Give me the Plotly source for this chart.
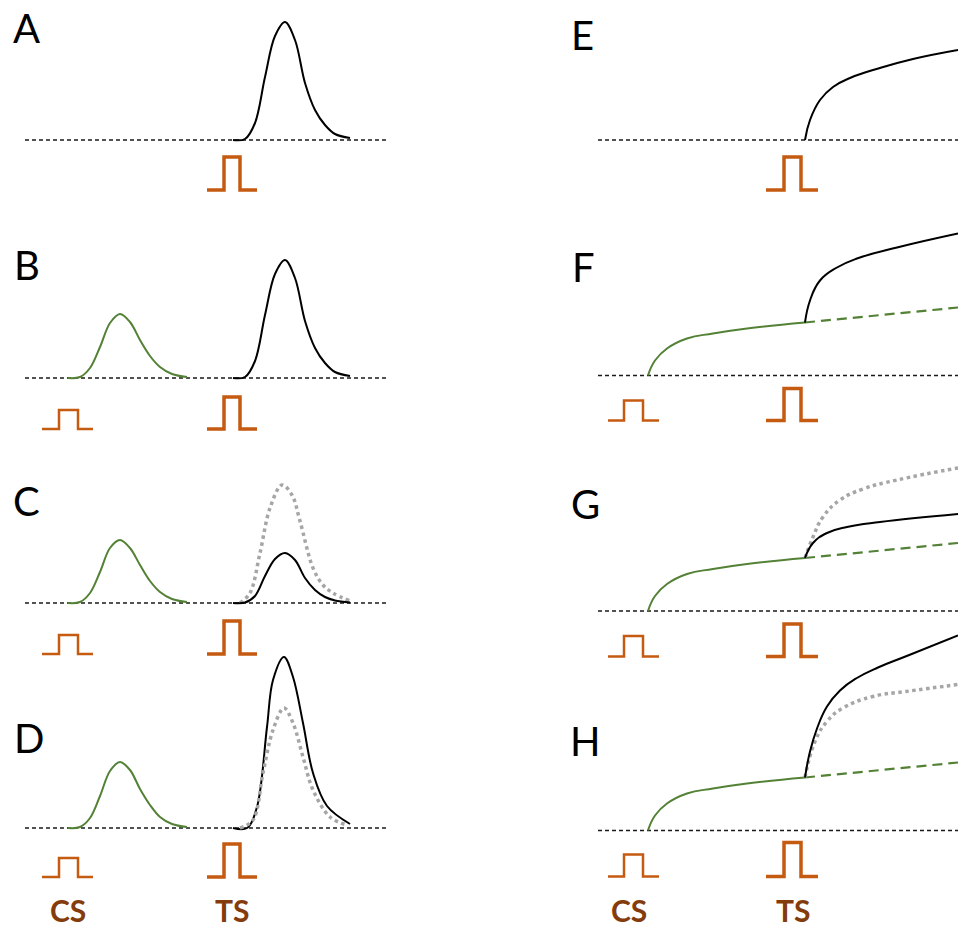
import plotly.graph_objects as go

# ---------------- data (time in px-like units from the start of each baseline,
# amplitude in px-like units above the baseline) ----------------
# Left column: MEP amplitude traces
L_TS_T = [208, 220, 230, 240, 250, 260, 270, 280, 290, 300, 310, 325]
A_TS_MEP = [0, 1, 17, 63, 104, 118, 100, 57, 30, 15, 6, 2]
B_TS_MEP = [0, 1, 17, 63, 104, 118, 100, 57, 30, 15, 6, 2]
C_TS_MEP = [0, 0.5, 7, 27, 44, 50, 43, 25, 13, 6, 2.5, 0.5]

C_REF_T = [215, 225, 235, 245, 257, 267, 275, 288, 298, 308, 325]
C_REF_MEP = [0, 10, 50, 95, 118, 108, 82, 35, 18, 10, 2]

D_TS_T = [208, 222, 232, 242, 248, 259, 268, 278, 288, 302, 325]
D_TS_MEP = [0, 0, 21, 101, 148, 171, 151, 105, 55, 22, 4]
D_REF_T = [215, 228, 238, 248, 259, 268, 278, 288, 305, 322]
D_REF_MEP = [0, 8, 55, 98, 120, 105, 71, 38, 11, 3]

L_CS_T = [43, 55, 65, 75, 85, 95, 105, 115, 125, 135, 147, 162]
B_CS_MEP = [0, 1, 10, 31, 55, 64, 56, 38, 22, 11, 4, 1]
C_CS_MEP = [0, 1, 10, 31, 55, 63, 55, 38, 22, 11, 4, 1]
D_CS_MEP = [0, 1, 10, 32, 57, 66, 58, 39, 23, 11, 4, 1]

# Right column: sustained responses
E_TS_T = [207, 212, 222, 235, 252, 282, 315, 360]
E_TS_RESP = [0, 20, 40, 53, 62, 72, 81, 90]

R_CS_T = [50, 57, 69, 89, 115, 149, 207]
R_CS_RESP = [0, 15, 27, 37, 42, 47, 53]
R_CS_CONT_T = [207, 360]
R_CS_CONT = [53, 68]

F_TS_T = [207, 212, 222, 239, 259, 299, 360]
F_TS_RESP = [53, 75, 95, 108, 117, 128, 142]

G_TS_T = [207, 215, 229, 249, 282, 360]
G_TS_RESP = [53, 68, 78, 84, 89, 97]
G_REF_T = [207, 215, 225, 242, 265, 299, 360]
G_REF_RESP = [53, 74, 94, 111, 122, 131, 143]

H_TS_T = [207, 212, 219, 229, 242, 258, 280, 310, 360]
H_TS_RESP = [53, 79, 102, 124, 140, 152, 163, 175, 195]
H_REF_T = [207, 217, 229, 245, 275, 308, 360]
H_REF_RESP = [53, 89, 109, 122.5, 134, 139, 146]

# Stimulus pulses: [start, rise, fall, end]
L_CS_PULSE = [17, 34, 53, 68]
L_TS_PULSE = [182, 199, 215, 232]
R_CS_PULSE = [10, 26, 45, 61]
R_TS_PULSE = [168, 186, 203, 220]

PANEL_LABELS = ["A", "B", "C", "D", "E", "F", "G", "H"]
STIM_LABELS = ["CS", "TS"]

# ---------------- styling ----------------
W, H = 958, 930
BLACK = "#000000"
GREEN = "#538135"
GREY = "#A6A6A6"
ORANGE = "#C55A11"
BROWN = "#843C0C"
BASE = "#1a1a1a"

# panel geometry: (column, row, baseline pixel y)
panels = {
    "A": (0, 0, 140), "B": (0, 1, 378), "C": (0, 2, 603), "D": (0, 3, 828),
    "E": (1, 0, 140), "F": (1, 1, 375.5), "G": (1, 2, 611), "H": (1, 3, 830.5),
}
# pulse levels per panel: (base, CS top, TS top), below baseline
pulse_levels = {
    "A": (-50, None, -17), "B": (-51, -32, -19), "C": (-51, -32, -18), "D": (-49, -30, -16),
    "E": (-50, None, -17), "F": (-45, -25, -13), "G": (-45.5, -25, -13), "H": (-46, -24, -12),
}

fig = go.Figure()
layout = dict(width=W, height=H, margin=dict(l=0, r=0, t=0, b=0), autosize=False,
              paper_bgcolor="white", plot_bgcolor="rgba(0,0,0,0)", showlegend=False)

axis_of = {}
for i, name in enumerate(PANEL_LABELS, start=1):
    col, row, base_py = panels[name]
    x0, x1 = (0, 479) if col == 0 else (479, 958)
    origin = 25 if col == 0 else 598
    top_py = max(0.0, 232.5 * row - 150)
    bot_py = 232.5 * (row + 1)
    sfx = "" if i == 1 else str(i)
    layout["xaxis" + sfx] = dict(domain=[x0 / W, x1 / W], range=[x0 - origin, x1 - origin],
                                 visible=False, fixedrange=True, anchor="y" + sfx)
    layout["yaxis" + sfx] = dict(domain=[1 - bot_py / H, 1 - top_py / H],
                                 range=[base_py - bot_py, base_py - top_py],
                                 visible=False, fixedrange=True, anchor="x" + sfx)
    axis_of[name] = ("x" + sfx, "y" + sfx)

fig.update_layout(**layout)


def line(name, x, y, color, width=2, dash="solid", shape="spline", smoothing=1.0):
    xa, ya = axis_of[name]
    fig.add_trace(go.Scatter(x=x, y=y, mode="lines", xaxis=xa, yaxis=ya,
                             line=dict(color=color, width=width, dash=dash, shape=shape,
                                       smoothing=smoothing if shape == "spline" else None),
                             hoverinfo="skip"))


def pulse(name, p, base, top, width):
    line(name, [p[0], p[1], p[1], p[2], p[2], p[3]], [base, base, top, top, base, base],
         ORANGE, width=width, shape="linear")


# baselines
for name in PANEL_LABELS:
    col = panels[name][0]
    line(name, [0, 363 if col == 0 else 362], [0, 0], BASE, width=1.3, dash="4px,3px", shape="linear")

# left column
line("A", L_TS_T, A_TS_MEP, BLACK)
line("B", L_CS_T, B_CS_MEP, GREEN)
line("B", L_TS_T, B_TS_MEP, BLACK)
line("C", L_CS_T, C_CS_MEP, GREEN)
line("C", C_REF_T, C_REF_MEP, GREY, width=3.5, dash="dot")
line("C", L_TS_T, C_TS_MEP, BLACK)
line("D", L_CS_T, D_CS_MEP, GREEN)
line("D", D_TS_T, D_TS_MEP, BLACK)
line("D", D_REF_T, D_REF_MEP, GREY, width=3.5, dash="dot")

# right column
S = 1.3
line("E", E_TS_T, E_TS_RESP, BLACK, smoothing=S)
for name in ["F", "G", "H"]:
    line(name, R_CS_T, R_CS_RESP, GREEN, smoothing=S)
    line(name, R_CS_CONT_T, R_CS_CONT, GREEN, width=2.2, dash="10px,6px", shape="linear")
line("F", F_TS_T, F_TS_RESP, BLACK, smoothing=S)
line("G", G_REF_T, G_REF_RESP, GREY, width=3.5, dash="dot", smoothing=S)
line("G", G_TS_T, G_TS_RESP, BLACK, smoothing=S)
line("H", H_REF_T, H_REF_RESP, GREY, width=3.5, dash="dot", smoothing=S)
line("H", H_TS_T, H_TS_RESP, BLACK, smoothing=S)

# stimulus pulses
for name in PANEL_LABELS:
    col = panels[name][0]
    base, cs_top, ts_top = pulse_levels[name]
    cs_p, ts_p = (L_CS_PULSE, L_TS_PULSE) if col == 0 else (R_CS_PULSE, R_TS_PULSE)
    if cs_top is not None:
        pulse(name, cs_p, base, cs_top, 2.5)
    pulse(name, ts_p, base, ts_top, 3.5)

# panel letters
letter_pos = {"A": (26, 28), "B": (27, 265), "C": (26, 501), "D": (29, 738),
              "E": (582, 35), "F": (583, 267), "G": (585, 504), "H": (585, 741)}
for name in PANEL_LABELS:
    px, py = letter_pos[name]
    fig.add_annotation(x=px / W, y=1 - py / H, xref="paper", yref="paper", text=name,
                       showarrow=False, xanchor="center", yanchor="middle",
                       font=dict(family="Lato, Open Sans, sans-serif", size=40, color="black"))

# CS / TS labels under bottom panels
for name, cs_x, ts_x in [("D", 42.5, 207), ("H", 30.5, 195)]:
    xa, ya = axis_of[name]
    for lab, xv in zip(STIM_LABELS, [cs_x, ts_x]):
        fig.add_annotation(x=xv, y=0, xref=xa, yref="paper", text="<b>%s</b>" % lab,
                           showarrow=False, xanchor="center", yanchor="bottom",
                           borderpad=0, yshift=1,
                           font=dict(family="Lato, Open Sans, sans-serif", size=30, color=BROWN))

fig.write_html("out.html", config={"displayModeBar": False, "staticPlot": True},
               post_script="document.body.style.margin='0';")
